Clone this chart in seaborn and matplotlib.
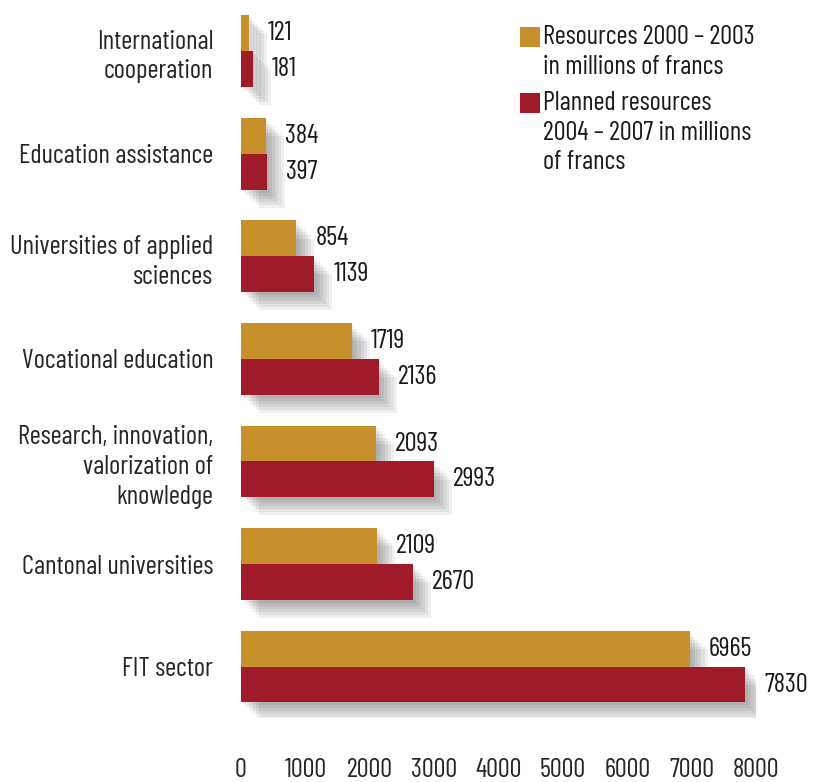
import pandas as pd
import matplotlib
matplotlib.use('Agg')
import matplotlib.pyplot as plt
import matplotlib.patheffects as pe
from matplotlib import font_manager
from matplotlib.font_manager import FontProperties
from matplotlib.patches import Rectangle
import seaborn as sns

# data
categories = ['International\ncooperation', 'Education assistance',
              'Universities of applied\nsciences', 'Vocational education',
              'Research, innovation,\nvalorization of\nknowledge',
              'Cantonal universities', 'FIT sector']
resources_2000_2003 = [121, 384, 854, 1719, 2093, 2109, 6965]
planned_2004_2007 = [181, 397, 1139, 2136, 2993, 2670, 7830]
series_labels = ['Resources 2000 \u2013 2003\nin millions of francs',
                 'Planned resources\n2004 \u2013 2007 in millions\nof francs']
x_ticks = [0, 1000, 2000, 3000, 4000, 5000, 6000, 7000, 8000]

gold = '#C8902B'
red = '#A01A2A'

df = pd.DataFrame({
    'category': categories * 2,
    'value': resources_2000_2003 + planned_2004_2007,
    'series': [series_labels[0]] * len(categories) + [series_labels[1]] * len(categories),
})

sns.set_style('white')
plt.rcParams['text.color'] = '#1a1a1a'

# the reference uses a condensed sans: pick the installed regular face whose
# width / cap-height ratio is closest (ref: 191 px wide, 19 px caps)
target_ratio = 191 / 19
plain = {'Noto Sans', 'DejaVu Sans', 'Roboto', 'Open Sans', 'Lato', 'Liberation Sans'}
seen = set()
best = None
for f in font_manager.fontManager.ttflist:
    if f.fname in seen or f.style != 'normal' or f.weight != 400:
        continue
    if not ('Condensed' in f.name or 'Narrow' in f.name or f.name in plain
            or 'condensed' in str(f.stretch)):
        continue
    if 'Mono' in f.name or 'Serif' in f.name:
        continue
    seen.add(f.fname)
    if len(seen) > 60:
        break
    try:
        ft = font_manager.get_font(f.fname)
        ft.set_size(100, 72)
        ft.set_text('Cantonal universities')
        w = ft.get_width_height()[0] / 64
        g = ft.load_char(ord('H'))
        h = g.height / 64
    except Exception:
        continue
    if h <= 0:
        continue
    score = abs(w / h - target_ratio)
    if best is None or score < best[0]:
        best = (score, f.fname, w)
font = FontProperties(fname=best[1])
fs = 100 * 191 / best[2] * 72 / 100   # points at dpi 100

fig = plt.figure(figsize=(8.14, 7.82), dpi=100)
ax = fig.add_axes([0.296, 0.082, 0.633, 0.918])

sns.barplot(data=df, y='category', x='value', hue='series', orient='h',
            palette=[gold, red], width=0.7, ax=ax, legend=False, saturation=1,
            linewidth=0)

# soft drop shadow on the bars
shadow = [pe.SimplePatchShadow(offset=(2 + 2.2 * i, -2 - 2.2 * i), shadow_rgbFace='black',
                               alpha=0.06) for i in range(6)]
for bar in ax.patches:
    bar.set_path_effects(shadow + [pe.Normal()])

for cont in ax.containers:
    ax.bar_label(cont, padding=14, fontproperties=font, fontsize=fs, color='#1a1a1a')

ax.set_xlim(0, 8000)
ax.set_ylim(6.5, -0.5)
ax.set_xticks(x_ticks)
ax.set_xticklabels([str(t) for t in x_ticks])
ax.tick_params(axis='x', length=0, pad=29)
ax.tick_params(axis='y', length=0, pad=20)
for lab in ax.get_xticklabels() + ax.get_yticklabels():
    lab.set_fontproperties(font)
    lab.set_fontsize(fs)
for lab in ax.get_yticklabels():
    lab.set_multialignment('right')
    lab.set_linespacing(1.3)
ax.set_xlabel('')
ax.set_ylabel('')
sns.despine(ax=ax, left=True, bottom=True)

# legend: square swatch next to the first line of each label
legend_rows = [(gold, series_labels[0], 37), (red, series_labels[1], 103)]
for color, text, yc in legend_rows:
    fig.patches.append(Rectangle((520 / 814, 1 - (yc + 10) / 782), 20 / 814, 20 / 782,
                                 transform=fig.transFigure, facecolor=color,
                                 edgecolor='none'))
    fig.text(543 / 814, 1 - (yc - 12) / 782, text, fontproperties=font, fontsize=fs,
             va='top', ha='left', linespacing=1.3)

fig.savefig('out.png', dpi=100)
